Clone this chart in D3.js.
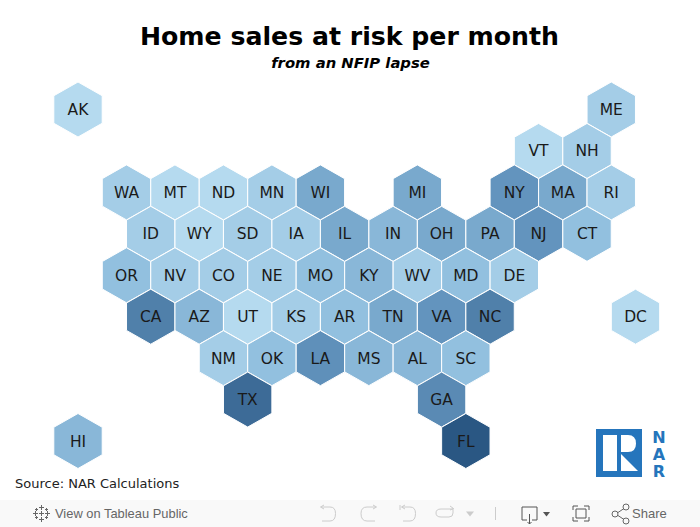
<!DOCTYPE html>
<html lang="en">
<head>
<meta charset="UTF-8">
<title>Home sales at risk per month</title>
<script src="https://cdn.jsdelivr.net/npm/d3@7"></script>
<style>
    html, body { margin: 0; padding: 0; background: #fff; }
    svg { display: block; }
</style>
</head>
<body>
<script>
// tile map: grid col/row plus estimated sales index read off the shading
var states = ["AK","ME","VT","NH","WA","MT","ND","MN","WI","MI","NY","MA","RI",
    "ID","WY","SD","IA","IL","IN","OH","PA","NJ","CT",
    "OR","NV","CO","NE","MO","KY","WV","MD","DE",
    "CA","AZ","UT","KS","AR","TN","VA","NC","DC",
    "NM","OK","LA","MS","AL","SC","TX","GA","HI","FL"];
var gridCols = [0,22,19,21,2,4,6,8,10,14,18,20,22,
    3,5,7,9,11,13,15,17,19,21,
    2,4,6,8,10,12,14,16,18,
    3,5,7,9,11,13,15,17,23,
    6,8,10,12,14,16,7,15,0,16];
var gridRows = [0,0,1,1,2,2,2,2,2,2,2,2,2,
    3,3,3,3,3,3,3,3,3,3,
    4,4,4,4,4,4,4,4,4,
    5,5,5,5,5,5,5,5,5,
    6,6,6,6,6,6,7,7,8,8];
var salesAtRisk = [2,12,2,12,12,2,2,12,38,38,52,38,12,
    12,2,12,12,38,28,38,38,52,22,
    22,12,12,12,22,28,12,22,12,
    68,28,2,12,22,38,52,68,2,
    12,22,55,28,28,22,84,60,28,100];

var width = 700;
var height = 527;
var hexRadius = 27.5;
var hexHalfWidth = 24.2;
var labelFont = "'DejaVu Sans', sans-serif";

var svg = d3.select("body").append("svg")
    .attr("width", width)
    .attr("height", height);

var scaleX = d3.scaleLinear().domain([0, 23]).range([78, 635.5]);
var scaleY = d3.scaleLinear().domain([0, 8]).range([109.5, 441]);
var scaleColor = d3.scaleLinear()
    .domain([0, 22, 52, 100])
    .range(["#b9ddf1", "#92c0df", "#6394be", "#2a5783"]);

var hexPoints = [[0, -hexRadius], [hexHalfWidth, -hexRadius / 2], [hexHalfWidth, hexRadius / 2],
    [0, hexRadius], [-hexHalfWidth, hexRadius / 2], [-hexHalfWidth, -hexRadius / 2]];
var hexPath = d3.line().curve(d3.curveLinearClosed)(hexPoints);

// title block
svg.append("text")
    .attr("x", 349.5).attr("y", 45)
    .attr("text-anchor", "middle")
    .attr("font-family", labelFont)
    .attr("font-weight", 700)
    .attr("font-size", 25.2)
    .attr("fill", "#000")
    .text("Home sales at risk per month");
svg.append("text")
    .attr("x", 350.5).attr("y", 68)
    .attr("text-anchor", "middle")
    .attr("font-family", labelFont)
    .attr("font-weight", 700)
    .attr("font-style", "italic")
    .attr("font-size", 14.8)
    .attr("fill", "#000")
    .text("from an NFIP lapse");

var tile = svg.append("g")
    .selectAll("g")
    .data(states)
    .enter()
    .append("g")
    .attr("transform", function(d, i) { return "translate(" + scaleX(gridCols[i]) + "," + scaleY(gridRows[i]) + ")"; });

tile.append("path")
    .attr("d", hexPath)
    .attr("fill", function(d, i) { return scaleColor(salesAtRisk[i]); })
    .attr("stroke", "#fff")
    .attr("stroke-width", 1);

tile.append("text")
    .attr("y", 5.5)
    .attr("text-anchor", "middle")
    .attr("font-family", labelFont)
    .attr("font-size", 15.5)
    .attr("fill", "#1a1a1a")
    .text(function(d) { return d; });

svg.append("text")
    .attr("x", 15).attr("y", 488)
    .attr("font-family", labelFont)
    .attr("font-size", 13)
    .attr("fill", "#222")
    .text("Source: NAR Calculations");

// NAR logo
var logo = svg.append("g");
logo.append("rect").attr("x", 596).attr("y", 429).attr("width", 46).attr("height", 48).attr("fill", "#2575bc");
logo.append("rect").attr("x", 603).attr("y", 435).attr("width", 14).attr("height", 36).attr("fill", "#fff");
logo.append("path").attr("d", "M621,435H628Q636,435 636,443.5Q636,452 628,452H621Z").attr("fill", "#fff");
logo.append("path").attr("d", "M621,454L638,471H621Z").attr("fill", "#fff");
["N", "A", "R"].forEach(function(letter, i) {
    logo.append("text")
        .attr("x", 659).attr("y", 442.5 + i * 17.2)
        .attr("text-anchor", "middle")
        .attr("font-family", labelFont)
        .attr("font-weight", 700)
        .attr("font-size", 16)
        .attr("fill", "#2575bc")
        .text(letter);
});

// tableau toolbar
var bar = svg.append("g");
bar.append("rect").attr("x", 0).attr("y", 500).attr("width", width).attr("height", 27).attr("fill", "#f9f9f9");

var barText = function(x, label, size) {
    bar.append("text")
        .attr("x", x).attr("y", 518)
        .attr("font-family", "'Liberation Sans', sans-serif")
        .attr("font-size", size)
        .attr("fill", "#666")
        .text(label);
};
barText(55, "View on Tableau Public", 12.9);
barText(632, "Share", 13);

var icon = function(d, color) {
    bar.append("path")
        .attr("d", d)
        .attr("fill", "none")
        .attr("stroke", color)
        .attr("stroke-width", 1);
};
// tableau cross
icon("M41.5,505V510M39,507.5H44M41.5,517V522M39,519.5H44M33,513.5H38M35.5,511V516M45,513.5H50M47.5,511V516M36.5,508V511M35,509.5H38M46.5,508V511M45,509.5H48M36.5,516V519M35,517.5H38M46.5,516V519M45,517.5H48M41.5,511V516M39,513.5H44", "#666");
// undo, redo, revert, refresh
icon("M322,507H330Q335.5,507 335.5,513.5Q335.5,521 330,521H322M324,505L320.5,507L324,509", "#ccc");
icon("M375,507H367Q361,507 361,513.5Q361,521 367,521H375M373,505L376.5,507L373,509", "#ccc");
icon("M402,507H410Q415.5,507 415.5,513.5Q415.5,521 410,521H403M405,505L401.5,507L405,509M400,505V510", "#ccc");
icon("M453,509H441Q436,509 436,513Q436,517 441,517H449Q453,517 453,513V508M450,506L453.5,508.5L450,510", "#ccc");
bar.append("path").attr("d", "M466,511.5H474L470,516.5Z").attr("fill", "#ccc");
icon("M495.5,507V520", "#ccc");
// download, fullscreen, share
icon("M527,520H522V507H537V520H532M529.5,514V524M527.5,522L529.5,524L531.5,522", "#555");
bar.append("path").attr("d", "M543,512H550L546.5,516.5Z").attr("fill", "#555");
icon("M573,510V506H578M584,506H589V510M589,517V521H584M578,521H573V517M576,509H586V518H576Z", "#555");
icon("M616.5,513.5L624,508.5M616.5,514.5L624,519.5", "#666");
[[615, 514], [626, 507], [626, 521]].forEach(function(c) {
    bar.append("circle").attr("cx", c[0]).attr("cy", c[1]).attr("r", 3).attr("fill", "#f9f9f9").attr("stroke", "#666");
});
</script>
</body>
</html>
